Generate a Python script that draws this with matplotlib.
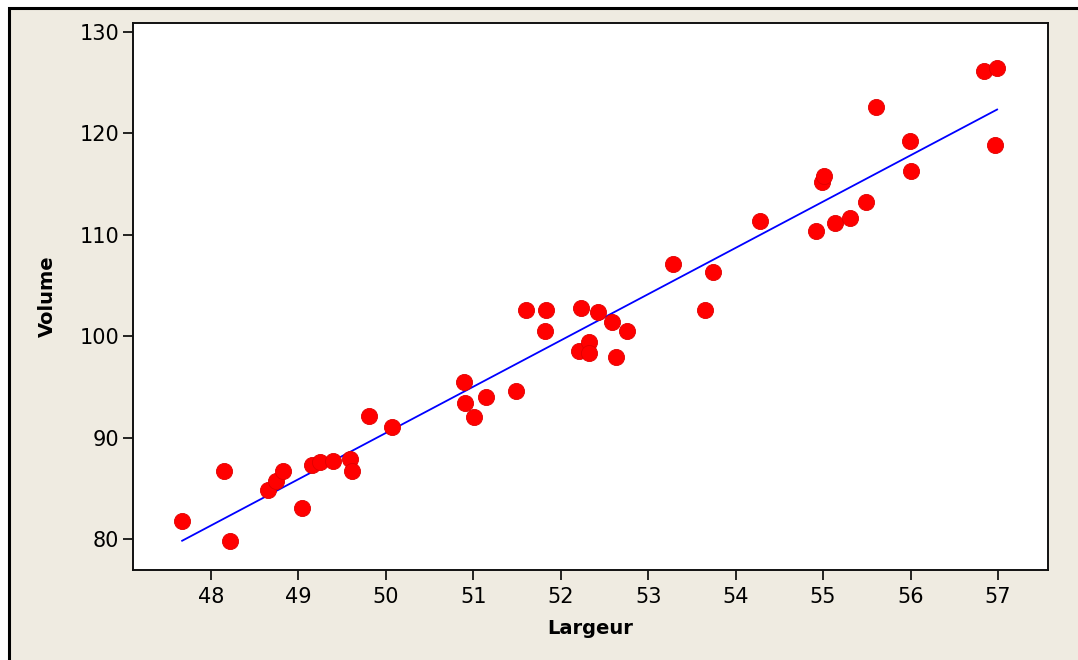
import numpy as np
import matplotlib
matplotlib.use("Agg")
from matplotlib import pyplot as plt
from matplotlib.patches import Rectangle

# Largeur / Volume measurements
largeur = [47.67, 48.15, 48.22, 48.65, 48.74, 48.82, 49.04, 49.16, 49.25, 49.40,
           49.59, 49.61, 49.81, 50.07, 50.89, 50.90, 51.01, 51.14, 51.49, 51.60,
           51.82, 51.83, 52.21, 52.23, 52.32, 52.32, 52.43, 52.59, 52.63, 52.76,
           53.28, 53.65, 53.74, 54.28, 54.92, 54.99, 55.01, 55.14, 55.31, 55.49,
           55.61, 55.99, 56.01, 56.84, 56.99, 56.97]
volume = [81.8, 86.7, 79.8, 84.8, 85.7, 86.7, 83.1, 87.3, 87.6, 87.7,
          87.9, 86.7, 92.1, 91.0, 95.5, 93.4, 92.0, 94.0, 94.6, 102.6,
          100.5, 102.6, 98.5, 102.8, 99.4, 98.3, 102.4, 101.4, 97.9, 100.5,
          107.1, 102.6, 106.3, 111.4, 110.4, 115.2, 115.8, 111.2, 111.7, 113.2,
          122.6, 119.3, 116.3, 126.2, 126.5, 118.9]

x_ticks = [48, 49, 50, 51, 52, 53, 54, 55, 56, 57]
y_ticks = [80, 90, 100, 110, 120, 130]

bg = '#EFEBE1'

fig = plt.figure(figsize=(10.78, 6.6), dpi=100)
fig.patch.set_facecolor('white')

# beige panel with black outline (left / top), kept behind the axes
frame = Rectangle((9 / 1078, -0.1), 1.2, (660 - 8) / 660 + 0.1,
                  transform=fig.transFigure, facecolor=bg,
                  edgecolor='black', linewidth=2.2, zorder=-5)
fig.patches.append(frame)

ax = fig.add_axes([133 / 1078, 90 / 660, 915 / 1078, 547 / 660])
ax.set_facecolor('white')

# least-squares fit line
x = np.array(largeur)
y = np.array(volume)
b1, b0 = np.polyfit(x, y, 1)
xl = np.array([x.min(), x.max()])
ax.plot(xl, b0 + b1 * xl, color='#0000FF', linewidth=1.3, zorder=2)

ax.scatter(x, y, s=135, color='#FF0000', edgecolors='#E00000',
           linewidths=0.6, zorder=3)

ax.set_xlim(47.108, 57.572)
ax.set_ylim(76.94, 130.89)
ax.set_xticks(x_ticks)
ax.set_yticks(y_ticks)

for s in ax.spines.values():
    s.set_linewidth(1.4)
    s.set_color('#111111')
ax.tick_params(direction='out', length=7, width=1.2, labelsize=15,
               colors='black')
ax.tick_params(axis='x', pad=5)
ax.tick_params(axis='y', pad=3)

ax.set_xlabel('Largeur', fontsize=14, fontweight='bold', labelpad=9)
ax.set_ylabel('Volume', fontsize=14, fontweight='bold', labelpad=16)

fig.savefig('out.png', dpi=100, facecolor=fig.get_facecolor())
